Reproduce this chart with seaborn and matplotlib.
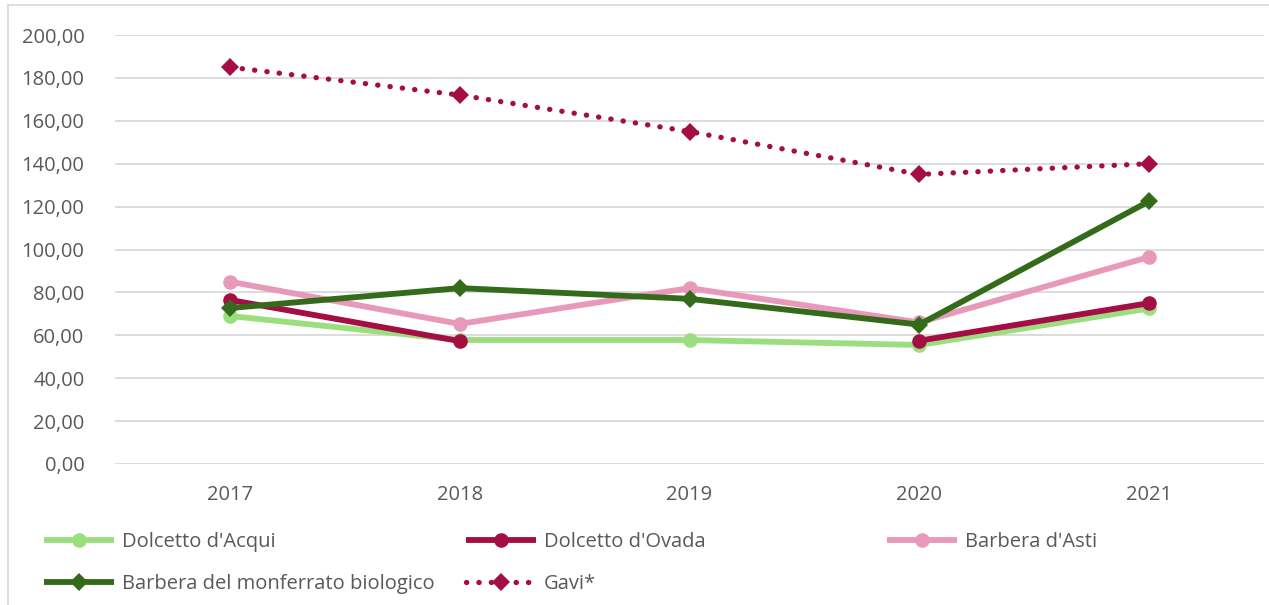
import numpy as np
import pandas as pd
import matplotlib
matplotlib.use("Agg")
import matplotlib.pyplot as plt
from matplotlib.lines import Line2D
import seaborn as sns

years = [2017, 2018, 2019, 2020, 2021]
dolcetto_acqui = [69.0, 57.8, 57.8, 55.5, 72.5]
dolcetto_ovada = [76.5, 57.3, np.nan, 57.5, 75.0]
barbera_asti = [85.0, 65.3, 82.0, 66.0, 96.5]
barbera_monf_bio = [72.7, 82.0, 77.0, 65.0, 122.5]
gavi = [185.0, 172.0, 155.0, 135.0, 140.0]

series_names = ["Dolcetto d'Acqui", "Dolcetto d'Ovada", "Barbera d'Asti",
                "Barbera del monferrato biologico", "Gavi*"]
series_values = [dolcetto_acqui, dolcetto_ovada, barbera_asti, barbera_monf_bio, gavi]
y_ticks = [0, 20, 40, 60, 80, 100, 120, 140, 160, 180, 200]

LW = 4.2
styles = {
    "Dolcetto d'Acqui": dict(color="#9BDE7E", marker="o", ls="-", ms=10.5, lw=LW),
    "Dolcetto d'Ovada": dict(color="#A50D45", marker="o", ls="-", ms=10.5, lw=LW),
    "Barbera d'Asti": dict(color="#E899BA", marker="o", ls="-", ms=10.5, lw=LW),
    "Barbera del monferrato biologico": dict(color="#336B1B", marker="D", ls="-", ms=9.5, lw=LW),
    "Gavi*": dict(color="#A50D45", marker="D", ls=(0, (0.05, 2.3)), ms=9.5, lw=3.8),
}

sns.set_theme(style="white")
plt.rcParams['font.family'] = ['Open Sans', 'DejaVu Sans']
TXT = "#595959"
FS = 14.5

fig = plt.figure(figsize=(12.69, 6.05), dpi=100)
ax = fig.add_axes([115/1269, 1-464/605, (1264-115)/1269, (464-35)/605])

for name, vals in zip(series_names, series_values):
    df = pd.DataFrame({"year": years, "value": vals})
    df["seg"] = df["value"].isna().cumsum()
    df = df.dropna()
    st = styles[name]
    sns.lineplot(data=df, x="year", y="value", units="seg", estimator=None,
                 ax=ax, color=st["color"], marker=st["marker"], linestyle=st["ls"],
                 linewidth=st["lw"], markersize=st["ms"], markeredgewidth=0,
                 dash_capstyle="round", solid_capstyle="butt", sort=False)

ax.set_xlim(2016.5, 2021.5)
ax.set_ylim(0, 200)
ax.set_yticks(y_ticks)
ax.set_yticklabels([f"{v:.2f}".replace(".", ",") for v in y_ticks])
ax.set_xticks(years)
ax.set_xticklabels([str(y) for y in years])
ax.set_xlabel("")
ax.set_ylabel("")
ax.tick_params(axis="both", length=0, labelsize=FS, labelcolor=TXT)
ax.tick_params(axis="y", pad=22)
ax.tick_params(axis="x", pad=15)
ax.grid(axis="y", color="#D9D9D9", linewidth=1.3)
ax.grid(axis="x", visible=False)
ax.set_axisbelow(True)
for s in ax.spines.values():
    s.set_visible(False)

# chart border (partially visible)
fig.add_artist(Line2D([8/1269, 8/1269], [0, 1-5/605], color="#D9D9D9", lw=1.2))
fig.add_artist(Line2D([8/1269, 1], [1-5/605, 1-5/605], color="#D9D9D9", lw=1.2))

def handle(name):
    st = styles[name]
    return Line2D([], [], color=st["color"], marker=st["marker"], linestyle=st["ls"],
                  linewidth=st["lw"], markersize=st["ms"], markeredgewidth=0,
                  dash_capstyle="round", solid_capstyle="butt")

columns = [
    (44, ["Dolcetto d'Acqui", "Barbera del monferrato biologico"]),
    (466, ["Dolcetto d'Ovada", "Gavi*"]),
    (887, ["Barbera d'Asti"]),
]
for x0, names in columns:
    fig.legend(handles=[handle(n) for n in names], labels=names,
               loc="upper left", bbox_to_anchor=(x0/1269, 1-532/605),
               frameon=False, fontsize=FS, labelcolor=TXT,
               handlelength=3.5, handletextpad=0.35, labelspacing=1.1,
               borderpad=0, borderaxespad=0)

fig.savefig("out.png", dpi=100)
